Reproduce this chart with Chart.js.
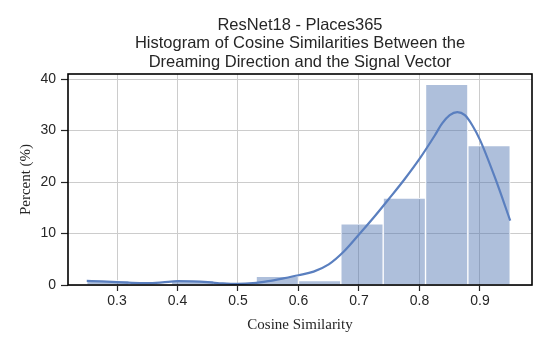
<!DOCTYPE html>
<html>
<head>
<meta charset="utf-8">
<script src="https://cdn.jsdelivr.net/npm/chart.js@4"></script>
<style>
  html, body { margin: 0; padding: 0; background: #fff; }
  #wrap { width: 550px; height: 350px; }
</style>
</head>
<body>
<div id="wrap"><canvas id="chart" width="550" height="350"></canvas></div>
<script>
// Histogram bins (centers) and percent per bin
const binCenters = [0.285, 0.355, 0.425, 0.495, 0.565, 0.635, 0.705, 0.775, 0.845, 0.915];
const binPercent = [0.85, 0, 0.85, 0, 1.7, 0.85, 11.9, 16.9, 39.0, 27.1];

// KDE curve
const kdeX = [0.25, 0.275, 0.3, 0.325, 0.35, 0.375, 0.4, 0.425, 0.45, 0.475, 0.5, 0.525, 0.55, 0.575,
              0.6, 0.625, 0.65, 0.675, 0.7, 0.725, 0.75, 0.775, 0.8, 0.825, 0.8375, 0.85, 0.8625,
              0.875, 0.8875, 0.9, 0.925, 0.95];
const kdeY = [0.8, 0.7, 0.55, 0.4, 0.35, 0.5, 0.75, 0.7, 0.55, 0.3, 0.2, 0.35, 0.75, 1.3,
              1.9, 2.6, 4.0, 6.5, 9.8, 13.2, 16.8, 20.5, 24.5, 29.0, 31.4, 33.0, 33.6,
              33.0, 31.0, 28.2, 20.8, 12.5];

const xTicks = [0.3, 0.4, 0.5, 0.6, 0.7, 0.8, 0.9];
const yTicks = [0, 10, 20, 30, 40];

const titleLines = [
    'ResNet18 - Places365',
    'Histogram of Cosine Similarities Between the',
    'Dreaming Direction and the Signal Vector'
];

// Draws the full black frame and the centered title
const framePlugin = {
    id: 'frame',
    afterDraw(chart) {
        const ctx = chart.ctx;
        const a = chart.chartArea;
        ctx.save();
        ctx.strokeStyle = '#000';
        ctx.lineWidth = 1.6;
        ctx.strokeRect(a.left, a.top, a.right - a.left, a.bottom - a.top);

        ctx.fillStyle = '#262626';
        ctx.font = '16.5px "Liberation Sans", Arial, sans-serif';
        ctx.textAlign = 'center';
        ctx.textBaseline = 'middle';
        const cx = (a.left + a.right) / 2;
        titleLines.forEach((line, i) => {
            ctx.fillText(line, cx, 25 + i * 18.5);
        });
        ctx.restore();
    }
};

const ctx = document.getElementById('chart').getContext('2d');
new Chart(ctx, {
    type: 'bar',
    data: {
        datasets: [
            {
                type: 'line',
                data: kdeX.map((x, i) => ({ x: x, y: kdeY[i] })),
                borderColor: '#5a7fbf',
                borderWidth: 2.2,
                pointRadius: 0,
                cubicInterpolationMode: 'monotone',
                fill: false,
                order: 0
            },
            {
                type: 'bar',
                data: binCenters.map((x, i) => ({ x: x, y: binPercent[i] })),
                backgroundColor: 'rgba(76, 114, 176, 0.45)',
                borderColor: '#ffffff',
                borderWidth: 1,
                borderSkipped: 'start',
                barPercentage: 1,
                categoryPercentage: 1,
                order: 1
            }
        ]
    },
    options: {
        responsive: false,
        animation: false,
        layout: { padding: { top: 74, right: 18, bottom: 0, left: 0 } },
        plugins: {
            legend: { display: false },
            title: { display: false },
            tooltip: { enabled: false }
        },
        scales: {
            x: {
                type: 'linear',
                min: 0.219,
                max: 0.986,
                offset: false,
                afterBuildTicks: (scale) => { scale.ticks = xTicks.map(v => ({ value: v })); },
                afterFit: (scale) => { scale.height = 65; },
                grid: {
                    color: '#cccccc',
                    lineWidth: 1,
                    drawTicks: true,
                    tickLength: 6,
                    tickColor: '#262626',
                    tickWidth: 1.2,
                    offset: false
                },
                border: { display: false },
                ticks: {
                    color: '#262626',
                    font: { family: '"Liberation Sans", Arial, sans-serif', size: 14 },
                    padding: 2,
                    maxRotation: 0,
                    callback: (v) => v.toFixed(1)
                },
                title: {
                    display: true,
                    text: 'Cosine Similarity',
                    color: '#262626',
                    font: { family: '"Liberation Serif", "Times New Roman", serif', size: 15 },
                    padding: { top: 0, bottom: 16 }
                }
            },
            y: {
                min: 0,
                max: 41,
                afterBuildTicks: (scale) => { scale.ticks = yTicks.map(v => ({ value: v })); },
                afterFit: (scale) => { scale.width = 68; },
                grid: {
                    color: '#cccccc',
                    lineWidth: 1,
                    drawTicks: true,
                    tickLength: 7,
                    tickColor: '#262626',
                    tickWidth: 1.2
                },
                border: { display: false },
                ticks: {
                    color: '#262626',
                    font: { family: '"Liberation Sans", Arial, sans-serif', size: 14 },
                    padding: 5,
                    callback: (v) => String(v)
                },
                title: {
                    display: true,
                    text: 'Percent (%)',
                    color: '#262626',
                    font: { family: '"Liberation Serif", "Times New Roman", serif', size: 15 },
                    padding: { top: 17, bottom: 0 }
                }
            }
        }
    },
    plugins: [framePlugin]
});
</script>
</body>
</html>
